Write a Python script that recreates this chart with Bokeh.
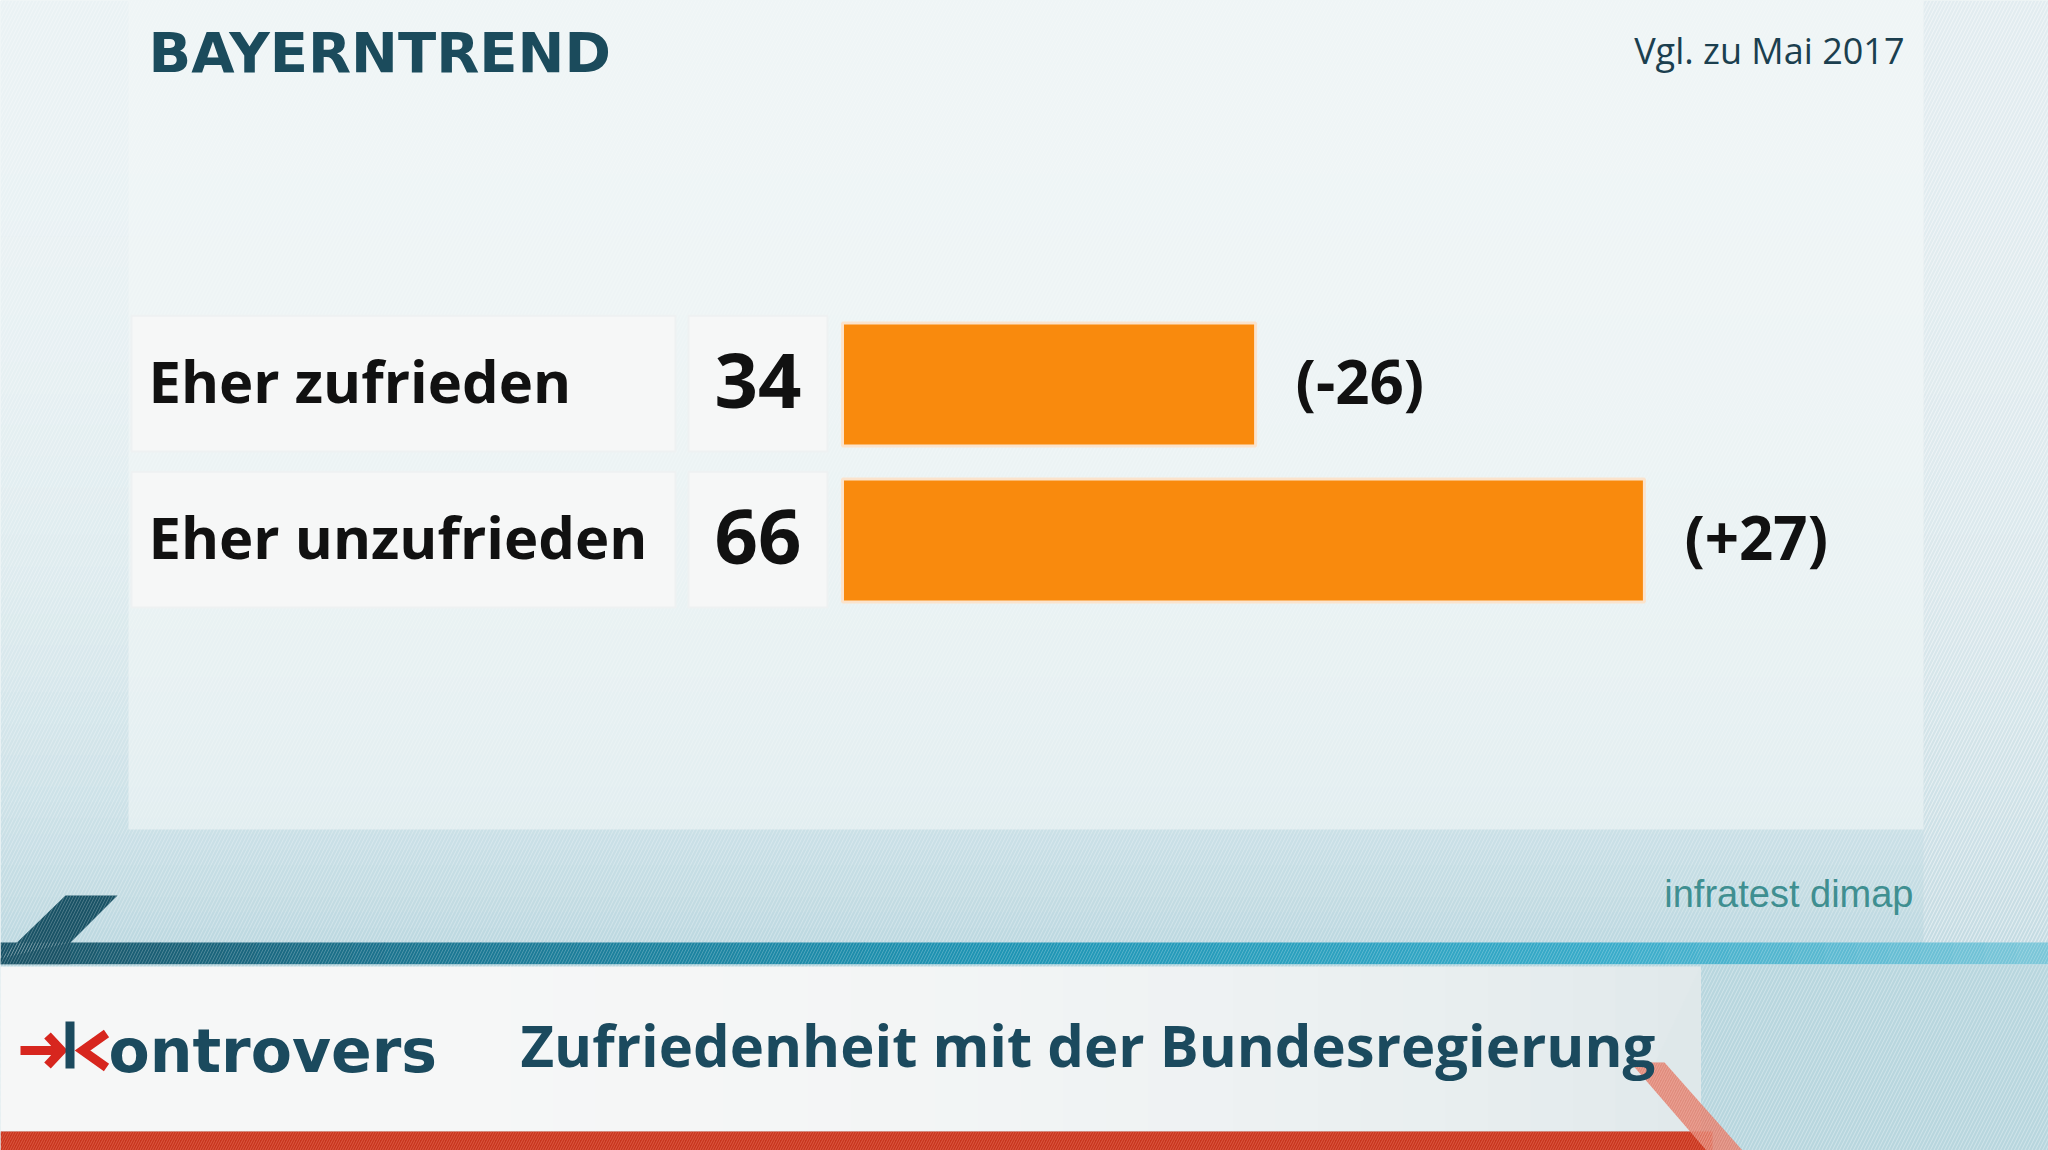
from bokeh.plotting import figure
from bokeh.models import Range1d
from bokeh.embed import file_html
from bokeh.resources import INLINE
from bokeh.core.properties import value

# ---------------- data ----------------
categories = ["Eher zufrieden", "Eher unzufrieden"]
values = [34, 66]
changes = ["(-26)", "(+27)"]
header = "BAYERNTREND"
compare_note = "Vgl. zu Mai 2017"
source = "infratest dimap"
title = "Zufriedenheit mit der Bundesregierung"
brand = "ontrovers"

W, H = 2048, 1150
rows = list(range(len(categories)))


def fy(t):
    return H - t


def lerp(c1, c2, t):
    a = [int(c1[i:i + 2], 16) for i in (1, 3, 5)]
    b = [int(c2[i:i + 2], 16) for i in (1, 3, 5)]
    return "#%02x%02x%02x" % tuple(int(round(a[k] + (b[k] - a[k]) * t)) for k in range(3))


p = figure(width=W, height=H, x_range=Range1d(0, W), y_range=Range1d(0, H),
           output_backend="svg", toolbar_location=None, min_border=0)
p.axis.visible = False
p.grid.visible = False
p.outline_line_color = None
p.background_fill_color = "#e3edf0"
p.border_fill_color = "#e3edf0"

# value scale: 0 at px 842, 12.15 px per unit
PX0, PXU = 842.0, 12.15
p.extra_x_ranges = {"val": Range1d(-PX0 / PXU, (W - PX0) / PXU)}
# row scale: row 0 centered at top-down 384, pitch 156 px
R0, RP = fy(384), 156.0
p.extra_y_ranges = {"row": Range1d(R0 / RP, (R0 - H) / RP)}

# ---------------- background ----------------
n = 60
for i in range(n):
    t0 = 943 * i / n
    t1 = 943 * (i + 1) / n
    c = lerp("#eaf2f4", "#bcd8e0", (i / n) ** 2.6)
    p.quad(left=0, right=W, top=fy(t0), bottom=fy(t1) - 0.5, fill_color=c, line_color=None)
# subtle diagonal stripes over the background
p.quad(left=0, right=W, top=H, bottom=fy(943), fill_alpha=0, line_color=None,
       hatch_pattern="/", hatch_color="#ffffff", hatch_alpha=0.3, hatch_scale=7, hatch_weight=1)
p.quad(left=1923, right=W, top=H, bottom=fy(943), fill_color="#d3e3e8", fill_alpha=0.35,
       line_color=None, hatch_pattern="/", hatch_color="#ffffff", hatch_alpha=0.4,
       hatch_scale=7, hatch_weight=1)
# main panel
p.quad(left=128, right=1923, top=H, bottom=fy(829), fill_color="#f2f6f7", fill_alpha=0.6,
       line_color=None)

# ---------------- bottom band ----------------
stops = [(0, "#1a5366"), (400, "#1c7590"), (1000, "#1f95b4"), (1600, "#38abc9"), (W, "#7dc7d9")]
m = 64
for i in range(m):
    x0 = W * i / m
    x1 = W * (i + 1) / m
    xc = (x0 + x1) / 2
    for k in range(len(stops) - 1):
        if stops[k][0] <= xc <= stops[k + 1][0]:
            tt = (xc - stops[k][0]) / (stops[k + 1][0] - stops[k][0])
            c = lerp(stops[k][1], stops[k + 1][1], tt)
    p.quad(left=x0, right=x1 + 0.5, top=fy(942), bottom=fy(964), fill_color=c, line_color=None)
# diagonal lead-in
p.patch(x=[65, 117, 70, 70, 0, 0], y=[fy(895), fy(895), fy(942), fy(964), fy(964), fy(958)],
        fill_color="#1a5366", line_color=None)
p.quad(left=0, right=W, top=fy(942), bottom=fy(964), fill_alpha=0, line_color=None,
       hatch_pattern="/", hatch_color="#ffffff", hatch_alpha=0.22, hatch_scale=6)
p.patch(x=[65, 117, 70, 0], y=[fy(895), fy(895), fy(942), fy(958)], fill_alpha=0,
        line_color=None, hatch_pattern="/", hatch_color="#ffffff", hatch_alpha=0.22,
        hatch_scale=6)

# area below band
p.quad(left=0, right=W, top=fy(964), bottom=0, fill_color="#b8d6de", line_color=None,
       hatch_pattern="/", hatch_color="#ffffff", hatch_alpha=0.35, hatch_scale=7)
k = 40
for i in range(k):
    x0 = 1700 * i / k
    x1 = 1700 * (i + 1) / k
    c = lerp("#f6f7f7", "#dfe8ea", (i / k) ** 3)
    p.quad(left=x0, right=x1 + 0.5, top=fy(966), bottom=fy(1131), fill_color=c, line_color=None)
p.patch(x=[1700, 1655, 1700], y=[fy(966), fy(1062), fy(1131)], fill_color="#dfe8ea",
        line_color=None)
# red arrow band
p.quad(left=0, right=1712, top=fy(1131), bottom=0, fill_color="#c8351d", line_color=None,
       hatch_pattern="/", hatch_color="#e8705a", hatch_alpha=0.6, hatch_scale=5)
p.patch(x=[1630, 1664, 1742, 1706], y=[fy(1062), fy(1062), fy(1150), fy(1150)],
        fill_color="#df7b6a", fill_alpha=0.85, line_color=None,
        hatch_pattern="/", hatch_color="#f3b0a4", hatch_alpha=0.6, hatch_scale=5)

# ---------------- row boxes ----------------
p.quad(left=131, right=675, top=[r - 0.44 for r in rows], bottom=[r + 0.43 for r in rows],
       y_range_name="row", fill_color="#f6f7f7", line_color="#eef1f2", line_width=2)
p.quad(left=688, right=827, top=[r - 0.44 for r in rows], bottom=[r + 0.43 for r in rows],
       y_range_name="row", fill_color="#f6f7f7", line_color="#eef1f2", line_width=2)

# ---------------- bars ----------------
p.hbar(y=rows, left=0, right=values, height=0.79, x_range_name="val", y_range_name="row",
       fill_color="#f98a0d", line_color="#fbe3cc", line_width=3)

FONT = value("Open Sans")
p.text(x=148, y=rows, text=categories, y_range_name="row", text_font=FONT,
       text_font_style="bold", text_font_size="58px", text_color="#111111",
       text_baseline="middle", text_align="left", y_offset=-4)
p.text(x=801, y=rows, text=[str(v) for v in values], y_range_name="row", text_font=FONT,
       text_font_style="bold", text_font_size="76px", text_color="#111111",
       text_baseline="middle", text_align="right", y_offset=-4)
p.text(x=values, y=rows, text=changes, x_range_name="val", y_range_name="row", x_offset=40,
       text_font=FONT, text_font_style="bold", text_font_size="60px", text_color="#111111",
       text_baseline="middle", text_align="left", y_offset=-4)

# ---------------- header / footer texts ----------------
p.text(x=[148], y=[fy(52)], text=[header], text_font=value("DejaVu Sans"),
       text_font_style="bold", text_font_size="56px", text_color="#1b4b5c",
       text_baseline="middle", text_align="left")
p.text(x=[1904], y=[fy(50)], text=[compare_note], text_font=FONT,
       text_font_size="36px", text_color="#1b3f4f", text_baseline="middle", text_align="right")
p.text(x=[1913], y=[fy(893)], text=[source], text_font=value("Liberation Sans"),
       text_font_size="38px", text_color="#3f8f91", text_baseline="middle", text_align="right")
p.text(x=[520], y=[fy(1044)], text=[title], text_font=FONT, text_font_style="bold",
       text_font_size="58px", text_color="#1b4a5e", text_baseline="middle", text_align="left")

# kontrovers logo
RED = "#d7261e"
TEAL = "#1b4a5e"
p.segment(x0=[20], y0=[fy(1050)], x1=[58], y1=[fy(1050)], line_color=RED, line_width=9)
p.line(x=[47, 61, 47], y=[fy(1035), fy(1050), fy(1065)], line_color=RED, line_width=9,
       line_join="miter")
p.segment(x0=[69.5], y0=[fy(1021)], x1=[69.5], y1=[fy(1068)], line_color=TEAL, line_width=9)
p.line(x=[106, 82, 106], y=[fy(1033), fy(1050), fy(1067)], line_color=RED, line_width=9,
       line_join="miter")
p.text(x=[108], y=[fy(1050)], text=[brand], text_font=value("DejaVu Sans"),
       text_font_style="bold", text_font_size="60px", text_color=TEAL,
       text_baseline="middle", text_align="left")

open("out.html", "w").write(file_html(p, INLINE))
